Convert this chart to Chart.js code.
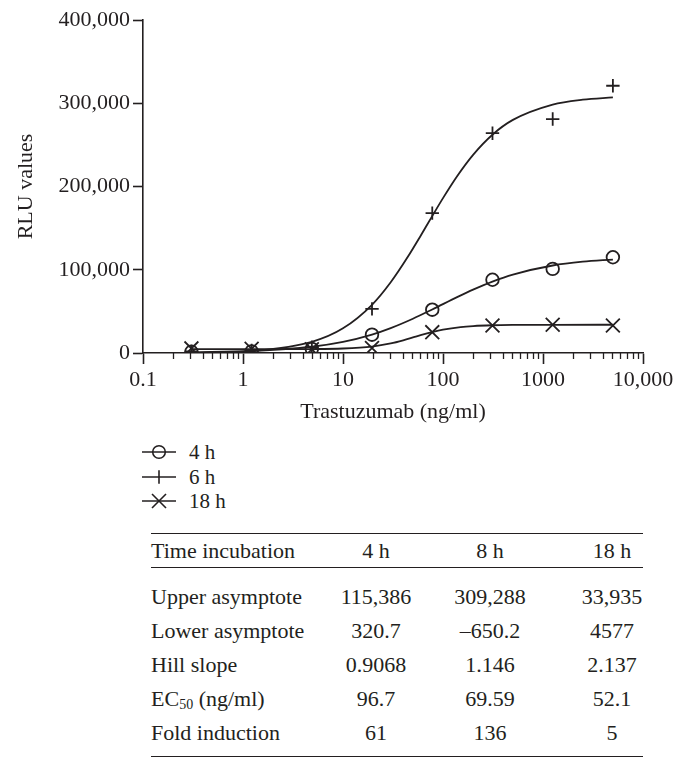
<!DOCTYPE html>
<html>
<head>
<meta charset="utf-8">
<script src="https://cdn.jsdelivr.net/npm/chart.js@4.4.1/dist/chart.umd.min.js"></script>
<style>
body { margin: 0; background: #fff; font-family: "Liberation Serif", serif; color: #231f20; }
#wrap { position: relative; width: 686px; height: 763px; overflow: hidden; }
#chart { position: absolute; left: 0; top: 0; }
.leg { position: absolute; left: 140px; height: 24px; display: flex; align-items: center; font-size: 21px; }
.leg svg { display: block; margin-right: 9px; }
table { position: absolute; left: 151px; top: 533px; width: 492px; border-collapse: collapse; font-size: 22px; table-layout: fixed; }
th, td { padding: 0; font-weight: normal; text-align: center; line-height: 34px; vertical-align: top; white-space: nowrap; }
th { height: 33px; line-height: 33px; border-top: 1.5px solid #231f20; border-bottom: 1.5px solid #231f20; }
th:first-child, td:first-child { text-align: left; }
th:last-child, td:last-child { padding-left: 33px; }
tr.gap td { height: 12px; line-height: 12px; }
tr.last td { padding-bottom: 6px; border-bottom: 1.5px solid #231f20; }
sub { font-size: 14px; vertical-align: -3px; line-height: 0; }
</style>
</head>
<body>
<div id="wrap">
  <canvas id="chart" width="686" height="440"></canvas>
  <div id="legend"></div>
  <table id="params"></table>
</div>
<script>
// concentrations (ng/ml), 4-fold dilutions
const xValues = [0.305, 1.22, 4.88, 19.5, 78.1, 312.5, 1250, 5000];
const rlu4h = [1500, 2000, 5000, 22000, 52000, 88000, 101000, 115000];
const rlu6h = [2000, 3000, 7000, 53000, 168000, 264000, 281000, 321000];
const rlu18h = [5500, 5000, 4500, 6000, 25000, 33000, 34000, 33000];

// fitted curves
const fitX4h = [0.305, 1.22, 4.88, 10, 19.5, 30, 50, 78, 140, 200, 312, 500, 1250, 2500, 5000];
const fitY4h = [938, 2462, 7513, 13358, 22147, 29901, 41143, 52264, 67414, 76151, 85827, 94221, 105096, 109659, 112260];
const fitX6h = [0.305, 1.22, 4.88, 10, 19.5, 30, 45, 60, 78, 100, 140, 200, 312, 500, 1250, 2500, 5000];
const fitY6h = [0, 2333, 13425, 29623, 57862, 84905, 116401, 141179, 164430, 186060, 213262, 238076, 262210, 279990, 298370, 304257, 306994];
const fitX18h = [0.305, 1.22, 4.88, 10, 19.5, 30, 40, 52, 65, 78, 100, 150, 200, 312, 500, 1250, 5000];
const fitY18h = [4577, 4587, 4762, 5415, 7779, 11480, 15218, 19256, 22662, 25220, 28095, 31160, 32365, 33308, 33703, 33902, 33931];

const xTicks = [0.1, 1, 10, 100, 1000, 10000];
const xTickLabels = ['0.1', '1', '10', '100', '1000', '10,000'];
const yTicks = [0, 100000, 200000, 300000, 400000];
const yTickLabels = ['0', '100,000', '200,000', '300,000', '400,000'];

const seriesLabels = ['4 h', '6 h', '18 h'];

const tableHeader = ['Time incubation', '4 h', '8 h', '18 h'];
const tableRows = [
    ['Upper asymptote', '115,386', '309,288', '33,935'],
    ['Lower asymptote', '320.7', '–650.2', '4577'],
    ['Hill slope', '0.9068', '1.146', '2.137'],
    ['EC<sub>50</sub> (ng/ml)', '96.7', '69.59', '52.1'],
    ['Fold induction', '61', '136', '5']
];

const ink = '#231f20';
const family = '"Liberation Serif", serif';

const minorTicks = [];
xTicks.slice(0, -1).forEach(d => {
    for (let k = 2; k <= 9; k++) minorTicks.push(d * k);
});

const toPoints = (xs, ys) => xs.map((x, i) => ({ x: x, y: ys[i] }));

function curve(xs, ys) {
    return {
        data: toPoints(xs, ys),
        showLine: true,
        borderColor: ink,
        borderWidth: 1.8,
        pointRadius: 0,
        cubicInterpolationMode: 'monotone',
        xAxisID: 'x',
        yAxisID: 'y'
    };
}

function markers(ys, style, radius) {
    return {
        data: toPoints(xValues, ys),
        showLine: false,
        pointStyle: style,
        pointRadius: radius,
        pointBorderWidth: 1.8,
        pointBorderColor: ink,
        pointBackgroundColor: 'rgba(0,0,0,0)',
        xAxisID: 'x',
        yAxisID: 'y'
    };
}

new Chart(document.getElementById('chart').getContext('2d'), {
    type: 'scatter',
    data: {
        datasets: [
            curve(fitX4h, fitY4h),
            curve(fitX6h, fitY6h),
            curve(fitX18h, fitY18h),
            markers(rlu4h, 'circle', 6.3),
            markers(rlu6h, 'cross', 6.7),
            markers(rlu18h, 'crossRot', 9.8)
        ]
    },
    options: {
        responsive: false,
        animation: false,
        devicePixelRatio: 1,
        layout: { padding: { left: 0, top: 20, right: 43, bottom: 0 } },
        plugins: { legend: { display: false }, tooltip: { enabled: false } },
        scales: {
            x: {
                type: 'logarithmic',
                position: 'bottom',
                min: 0.1,
                max: 10000,
                afterFit: s => { s.height = 87; },
                afterBuildTicks: s => { s.ticks = xTicks.map(v => ({ value: v })); },
                ticks: {
                    autoSkip: false,
                    maxRotation: 0,
                    padding: 3,
                    color: ink,
                    font: { family: family, size: 22 },
                    callback: (v, i) => xTickLabels[i]
                },
                grid: { drawOnChartArea: false, tickLength: 11, tickWidth: 1.6, tickColor: ink },
                border: { color: ink, width: 1.6 },
                title: {
                    display: true,
                    text: 'Trastuzumab (ng/ml)',
                    color: ink,
                    font: { family: family, size: 22 },
                    padding: { top: 0, bottom: 15 }
                }
            },
            xm: {
                axis: 'x',
                type: 'logarithmic',
                position: { y: 0 },
                min: 0.1,
                max: 10000,
                afterBuildTicks: s => { s.ticks = minorTicks.map(v => ({ value: v })); },
                ticks: { display: false },
                grid: { drawOnChartArea: false, tickLength: 6, tickWidth: 1.3, tickColor: ink },
                border: { display: false }
            },
            y: {
                min: 0,
                max: 400000,
                afterFit: s => { s.width = 143; },
                afterBuildTicks: s => { s.ticks = yTicks.map(v => ({ value: v })); },
                ticks: {
                    padding: 3,
                    color: ink,
                    font: { family: family, size: 22 },
                    callback: (v, i) => yTickLabels[i]
                },
                grid: { drawOnChartArea: false, tickLength: 10, tickWidth: 1.6, tickColor: ink },
                border: { color: ink, width: 1.6 },
                title: {
                    display: true,
                    text: 'RLU values',
                    color: ink,
                    font: { family: family, size: 22 },
                    padding: { top: 13, bottom: 0 }
                }
            }
        }
    }
});

// legend: line sample with the series marker
const legendIcons = [
    '<circle cx="19" cy="12" r="6.3" fill="none" stroke="' + ink + '" stroke-width="1.6"/>',
    '<line x1="19" y1="5.3" x2="19" y2="18.7" stroke="' + ink + '" stroke-width="1.6"/>',
    '<line x1="12" y1="5" x2="26" y2="19" stroke="' + ink + '" stroke-width="1.6"/><line x1="26" y1="5" x2="12" y2="19" stroke="' + ink + '" stroke-width="1.6"/>'
];
const legendTops = [440, 465, 489];
const legendEl = document.getElementById('legend');
seriesLabels.forEach((label, i) => {
    const row = document.createElement('div');
    row.className = 'leg';
    row.style.top = legendTops[i] + 'px';
    row.innerHTML = '<svg width="40" height="24"><line x1="2" y1="12" x2="36" y2="12" stroke="' + ink +
        '" stroke-width="1.6"/>' + legendIcons[i] + '</svg><span>' + label + '</span>';
    legendEl.appendChild(row);
});

// parameter table
const tbl = document.getElementById('params');
let html = '<colgroup><col style="width:169px"><col style="width:112px"><col style="width:116px"><col style="width:95px"></colgroup>';
html += '<thead><tr>' + tableHeader.map(h => '<th>' + h + '</th>').join('') + '</tr></thead><tbody>';
html += '<tr class="gap"><td></td><td></td><td></td><td></td></tr>';
tableRows.forEach((r, i) => {
    const cls = i === tableRows.length - 1 ? ' class="last"' : '';
    html += '<tr' + cls + '>' + r.map(c => '<td>' + c + '</td>').join('') + '</tr>';
});
html += '</tbody>';
tbl.innerHTML = html;
</script>
</body>
</html>
